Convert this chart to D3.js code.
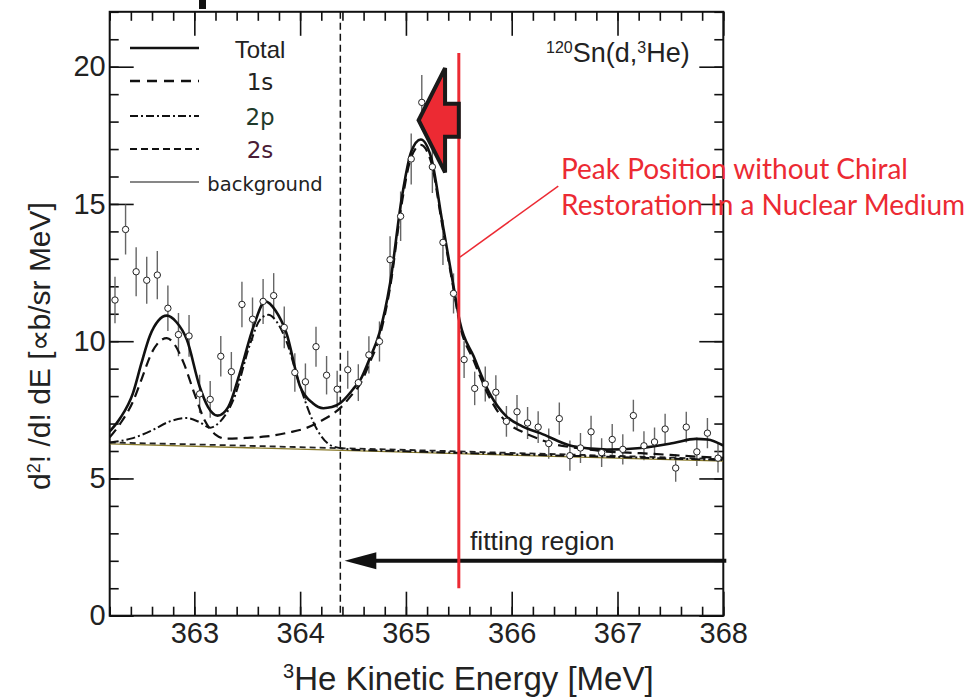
<!DOCTYPE html>
<html>
<head>
<meta charset="utf-8">
<script src="https://cdn.jsdelivr.net/npm/d3@7"></script>
<style>
  body { margin: 0; background: #fff; }
</style>
</head>
<body>
<script>
// measured spectrum, 0.1 MeV bins
const energy = [362.25, 362.35, 362.45, 362.55, 362.65, 362.75, 362.85, 362.95, 363.05, 363.15,
	363.25, 363.35, 363.45, 363.55, 363.65, 363.75, 363.85, 363.95, 364.05, 364.15,
	364.25, 364.35, 364.45, 364.55, 364.65, 364.75, 364.85, 364.95, 365.05, 365.15,
	365.25, 365.35, 365.45, 365.55, 365.65, 365.75, 365.85, 365.95, 366.05, 366.15,
	366.25, 366.35, 366.45, 366.55, 366.65, 366.75, 366.85, 366.95, 367.05, 367.15,
	367.25, 367.35, 367.45, 367.55, 367.65, 367.75, 367.85, 367.95];
const counts = [11.50, 14.07, 12.53, 12.22, 12.41, 11.20, 10.24, 10.19, 8.08, 7.88,
	9.45, 8.89, 11.34, 10.80, 11.45, 11.66, 10.50, 8.86, 8.52, 9.80,
	8.76, 8.25, 8.96, 8.49, 9.50, 9.99, 12.97, 14.55, 16.64, 18.70,
	16.35, 13.60, 11.74, 9.33, 8.28, 8.44, 8.14, 7.08, 7.43, 7.02,
	6.87, 6.27, 7.18, 5.83, 6.11, 6.70, 5.94, 6.42, 6.06, 7.29,
	6.19, 6.33, 6.80, 5.38, 6.87, 5.97, 6.65, 5.74];
const errors = [0.85, 0.91, 0.89, 0.86, 0.88, 0.83, 0.79, 0.76, 0.70, 0.67,
	0.74, 0.72, 0.83, 0.79, 0.82, 0.82, 0.76, 0.70, 0.67, 0.73,
	0.70, 0.67, 0.69, 0.67, 0.68, 0.73, 0.85, 0.90, 0.93, 1.00,
	0.95, 0.82, 0.73, 0.67, 0.61, 0.64, 0.62, 0.56, 0.61, 0.58,
	0.58, 0.55, 0.59, 0.55, 0.55, 0.58, 0.52, 0.56, 0.55, 0.58,
	0.53, 0.53, 0.56, 0.50, 0.56, 0.52, 0.55, 0.52];

// fitted curves: [energy, value]
const total = [[362.2, 6.71], [362.3, 7.2], [362.42, 8.11], [362.5, 9.2], [362.58, 10.2], [362.66, 10.75],
	[362.74, 10.93], [362.83, 10.7], [362.93, 10.05], [363.05, 8.35], [363.13, 7.6], [363.22, 7.29],
	[363.32, 7.6], [363.43, 8.84], [363.56, 10.54], [363.67, 11.45], [363.77, 11.1], [363.87, 10.3],
	[364.0, 8.35], [364.12, 7.74], [364.22, 7.56], [364.3, 7.6], [364.38, 7.75], [364.5, 8.25],
	[364.57, 8.6], [364.65, 9.3], [364.75, 10.3], [364.85, 12.1], [364.96, 15.2], [365.05, 16.9],
	[365.14, 17.35], [365.24, 16.67], [365.34, 14.43], [365.45, 12.0], [365.51, 10.7], [365.64, 9.45],
	[365.79, 8.11], [365.95, 7.26], [366.1, 6.9], [366.27, 6.65], [366.58, 6.17], [366.9, 6.05],
	[367.22, 6.11], [367.53, 6.29], [367.74, 6.44], [367.85, 6.42], [368.0, 6.2]];
const comp1s = [[362.2, 6.5], [362.3, 7.0], [362.42, 7.8], [362.5, 8.6], [362.6, 9.6], [362.68, 10.02],
	[362.74, 10.11], [362.8, 9.95], [362.9, 9.2], [363.0, 8.1], [363.1, 7.1], [363.2, 6.6],
	[363.3, 6.45], [363.5, 6.48], [363.68, 6.53], [363.9, 6.68], [364.06, 6.84], [364.2, 7.1],
	[364.38, 7.57], [364.5, 8.1], [364.57, 8.45], [364.65, 9.15], [364.75, 10.15], [364.85, 11.95],
	[364.96, 15.0], [365.05, 16.7], [365.14, 17.15], [365.24, 16.5], [365.34, 14.3], [365.45, 11.9],
	[365.51, 10.6], [365.64, 9.3], [365.79, 7.95], [365.95, 7.05], [366.1, 6.7], [366.27, 6.42],
	[366.42, 6.23], [366.58, 6.13], [366.9, 5.98], [367.22, 5.92], [367.53, 5.85], [367.74, 5.8], [368.0, 5.75]];
const comp2p = [[362.2, 6.31], [362.4, 6.45], [362.6, 6.75], [362.75, 7.05], [362.93, 7.2], [363.05, 7.05],
	[363.15, 6.85], [363.25, 7.1], [363.37, 7.87], [363.53, 9.93], [363.62, 10.78], [363.7, 10.96],
	[363.78, 10.7], [363.87, 10.0], [364.0, 8.35], [364.16, 6.78], [364.31, 6.17], [364.5, 6.05],
	[365.0, 5.99], [366.0, 5.88], [367.0, 5.78], [368.0, 5.67]];
const comp2s = [[362.2, 6.31], [363.0, 6.24], [364.0, 6.14], [365.0, 6.04], [366.0, 5.93], [367.0, 5.82], [368.0, 5.70]];
const background = [[362.2, 6.26], [368.0, 5.63]];

const legendLabels = ["Total", "1s", "2p", "2s", "background"];
const xMajor = [363, 364, 365, 366, 367, 368];
const yMajor = [0, 5, 10, 15, 20];

const width = 975, height = 697;

const svg = d3.select("body")
	.append("svg")
	.attr("width", width)
	.attr("height", height)
	.attr("xmlns", "http://www.w3.org/2000/svg");

svg.append("rect").attr("width", width).attr("height", height).attr("fill", "#fff");

const x = d3.scaleLinear().domain([362.2, 368]).range([109.7, 723.3]);
const y = d3.scaleLinear().domain([0, 22]).range([615.7, 11.8]);

svg.append("clipPath").attr("id", "plot")
	.append("rect")
	.attr("x", x(362.2)).attr("y", y(22))
	.attr("width", x(368) - x(362.2)).attr("height", y(0) - y(22));

// axes, ticks pointing inward
function tickStyle(g) {
	g.select(".domain").remove();
	g.selectAll("line").attr("stroke", "#111").attr("stroke-width", 1.6);
	g.selectAll("text")
		.attr("fill", "#222")
		.style("font-family", "'Liberation Sans', Arial, sans-serif")
		.style("font-size", "29px");
}
svg.append("g").attr("transform", "translate(0," + y(0) + ")")
	.call(d3.axisBottom(x).tickValues(x.ticks(30)).tickSize(-9).tickFormat(""))
	.call(tickStyle);
svg.append("g").attr("transform", "translate(0," + y(0) + ")")
	.call(d3.axisBottom(x).tickValues(xMajor).tickSize(-24).tickPadding(7).tickFormat(d3.format("d")))
	.call(tickStyle)
	.call(function (g) { g.selectAll("text").attr("y", 7); });
svg.append("g").attr("transform", "translate(0," + y(22) + ")")
	.call(d3.axisTop(x).tickValues(x.ticks(30)).tickSize(-9).tickFormat(""))
	.call(tickStyle);
svg.append("g").attr("transform", "translate(0," + y(22) + ")")
	.call(d3.axisTop(x).tickValues(xMajor).tickSize(-24).tickFormat(""))
	.call(tickStyle);
svg.append("g").attr("transform", "translate(" + x(362.2) + ",0)")
	.call(d3.axisLeft(y).tickValues(y.ticks(22)).tickSize(-9).tickFormat(""))
	.call(tickStyle);
svg.append("g").attr("transform", "translate(" + x(362.2) + ",0)")
	.call(d3.axisLeft(y).tickValues(yMajor).tickSize(-24).tickPadding(5).tickFormat(d3.format("d")))
	.call(tickStyle)
	.call(function (g) { g.selectAll("text").attr("x", -4); });
svg.append("g").attr("transform", "translate(" + x(368) + ",0)")
	.call(d3.axisRight(y).tickValues(y.ticks(22)).tickSize(-9).tickFormat(""))
	.call(tickStyle);
svg.append("g").attr("transform", "translate(" + x(368) + ",0)")
	.call(d3.axisRight(y).tickValues(yMajor).tickSize(-24).tickFormat(""))
	.call(tickStyle);

// frame
svg.append("rect")
	.attr("x", x(362.2)).attr("y", y(22))
	.attr("width", x(368) - x(362.2)).attr("height", y(0) - y(22))
	.attr("fill", "none").attr("stroke", "#111").attr("stroke-width", 2);

// cropped glyph fragment above the frame
svg.append("rect").attr("x", 199).attr("y", 0).attr("width", 7).attr("height", 9).attr("fill", "#111");

// fitting region boundary
svg.append("line")
	.attr("x1", x(364.38)).attr("x2", x(364.38))
	.attr("y1", y(22)).attr("y2", y(0))
	.attr("stroke", "#111").attr("stroke-width", 1.5)
	.attr("stroke-dasharray", "7,4");

const line = d3.line()
	.x(function (d) { return x(d[0]); })
	.y(function (d) { return y(d[1]); })
	.curve(d3.curveMonotoneX);

const plot = svg.append("g").attr("clip-path", "url(#plot)");

// error bars
plot.selectAll("line.err")
	.data(counts)
	.enter()
	.append("line")
	.attr("class", "err")
	.attr("x1", function (d, i) { return x(energy[i]); })
	.attr("x2", function (d, i) { return x(energy[i]); })
	.attr("y1", function (d, i) { return y(d - errors[i]); })
	.attr("y2", function (d, i) { return y(d + errors[i]); })
	.attr("stroke", "#666")
	.attr("stroke-width", 1.4);

plot.append("path").datum(background)
	.attr("d", line).attr("fill", "none")
	.attr("stroke", "#8a7b2c").attr("stroke-width", 1.3);
plot.append("path").datum(comp2s)
	.attr("d", line).attr("fill", "none")
	.attr("stroke", "#222").attr("stroke-width", 1.8).attr("stroke-dasharray", "6,4");
plot.append("path").datum(comp2p)
	.attr("d", line).attr("fill", "none")
	.attr("stroke", "#111").attr("stroke-width", 2).attr("stroke-dasharray", "9,3,2,3");
plot.append("path").datum(comp1s)
	.attr("d", line).attr("fill", "none")
	.attr("stroke", "#111").attr("stroke-width", 2.2).attr("stroke-dasharray", "10,6");
plot.append("path").datum(total)
	.attr("d", line).attr("fill", "none")
	.attr("stroke", "#111").attr("stroke-width", 2.6);

// data points
plot.selectAll("circle")
	.data(counts)
	.enter()
	.append("circle")
	.attr("cx", function (d, i) { return x(energy[i]); })
	.attr("cy", function (d) { return y(d); })
	.attr("r", 3.2)
	.attr("fill", "#fff")
	.attr("stroke", "#222")
	.attr("stroke-width", 1);

// legend
const legendStyles = [
	{ dash: null, w: 2.6 },
	{ dash: "10,7", w: 2.4 },
	{ dash: "8,3,2,3", w: 2.2 },
	{ dash: "7,4", w: 2.2 },
	{ dash: null, w: 1.2 }
];
const legendY = [48, 81, 116, 149, 182];
const legendColors = ["#222", "#222", "#1f3b2b", "#4a1c36", "#222"];
legendLabels.forEach(function (label, i) {
	svg.append("line")
		.attr("x1", 130).attr("x2", 199)
		.attr("y1", legendY[i]).attr("y2", legendY[i])
		.attr("stroke", "#111")
		.attr("stroke-width", legendStyles[i].w)
		.attr("stroke-dasharray", legendStyles[i].dash);
	svg.append("text")
		.attr("x", i === 4 ? 265 : 260)
		.attr("y", legendY[i] + (i === 0 ? 10 : 9))
		.attr("text-anchor", "middle")
		.attr("fill", legendColors[i])
		.style("font-family", i === 0 ? "'Liberation Sans', Arial, sans-serif" : "'DejaVu Sans', sans-serif")
		.style("font-size", i === 0 ? "24px" : (i === 4 ? "19.5px" : "23px"))
		.text(label);
});

// reaction label
const reaction = svg.append("text")
	.attr("x", 546).attr("y", 62)
	.attr("fill", "#222")
	.style("font-family", "'Liberation Sans', Arial, sans-serif")
	.style("font-size", "27px");
reaction.append("tspan").attr("dy", -9).style("font-size", "16px").text("120");
reaction.append("tspan").attr("dy", 9).text("Sn(d,");
reaction.append("tspan").attr("dy", -9).style("font-size", "16px").text("3");
reaction.append("tspan").attr("dy", 9).text("He)");

// fitting region arrow
const fitY = 2.0;
svg.append("line")
	.attr("x1", x(368) + 3).attr("x2", x(364.7))
	.attr("y1", y(fitY)).attr("y2", y(fitY))
	.attr("stroke", "#111").attr("stroke-width", 4);
svg.append("path")
	.attr("d", "M" + x(364.42) + "," + y(fitY) +
		"L" + x(364.72) + "," + (y(fitY) - 8.5) +
		"L" + x(364.72) + "," + (y(fitY) + 8.5) + "Z")
	.attr("fill", "#111");
svg.append("text")
	.attr("x", 470).attr("y", 550)
	.attr("fill", "#222")
	.style("font-family", "'Liberation Sans', Arial, sans-serif")
	.style("font-size", "26.5px")
	.text("fitting region");

// peak position without chiral restoration
const red = "#ec2a33";
svg.append("line")
	.attr("x1", x(365.5)).attr("x2", x(365.5))
	.attr("y1", y(20.5)).attr("y2", y(1.0))
	.attr("stroke", red).attr("stroke-width", 3);
svg.append("line")
	.attr("x1", x(365.51)).attr("y1", y(13.06))
	.attr("x2", x(366.44)).attr("y2", y(15.65))
	.attr("stroke", red).attr("stroke-width", 1.5);
const peakArrow = [[365.12, 18.05], [365.37, 19.95], [365.37, 18.65], [365.5, 18.65],
	[365.5, 17.45], [365.37, 17.45], [365.37, 16.15]];
svg.append("path")
	.attr("d", d3.line().x(function (d) { return x(d[0]); }).y(function (d) { return y(d[1]); })(peakArrow) + "Z")
	.attr("fill", red)
	.attr("stroke", "#1a1a1a")
	.attr("stroke-width", 4)
	.attr("stroke-linejoin", "miter");

svg.append("text")
	.attr("x", 561).attr("y", 179)
	.attr("fill", red)
	.style("font-family", "Lato, 'Open Sans', sans-serif")
	.style("font-size", "28px")
	.text("Peak Position without Chiral");
svg.append("text")
	.attr("x", 561).attr("y", 215)
	.attr("fill", red)
	.style("font-family", "Lato, 'Open Sans', sans-serif")
	.style("font-size", "28px")
	.text("Restoration In a Nuclear Medium");

// axis titles
const xTitle = svg.append("text")
	.attr("x", 283).attr("y", 690)
	.attr("fill", "#222")
	.style("font-family", "'Liberation Sans', Arial, sans-serif")
	.style("font-size", "33px");
xTitle.append("tspan").attr("dy", -12).style("font-size", "20px").text("3");
xTitle.append("tspan").attr("dy", 12).text("He Kinetic Energy [MeV]");

const yTitle = svg.append("text")
	.attr("transform", "translate(50,346) rotate(-90)")
	.attr("text-anchor", "middle")
	.attr("fill", "#222")
	.style("font-family", "'Liberation Sans', Arial, sans-serif")
	.style("font-size", "30px");
yTitle.append("tspan").text("d");
yTitle.append("tspan").attr("dy", -10).style("font-size", "18px").text("2");
yTitle.append("tspan").attr("dy", 10).text("! /d!  dE [\u221Db/sr MeV]");
</script>
</body>
</html>
